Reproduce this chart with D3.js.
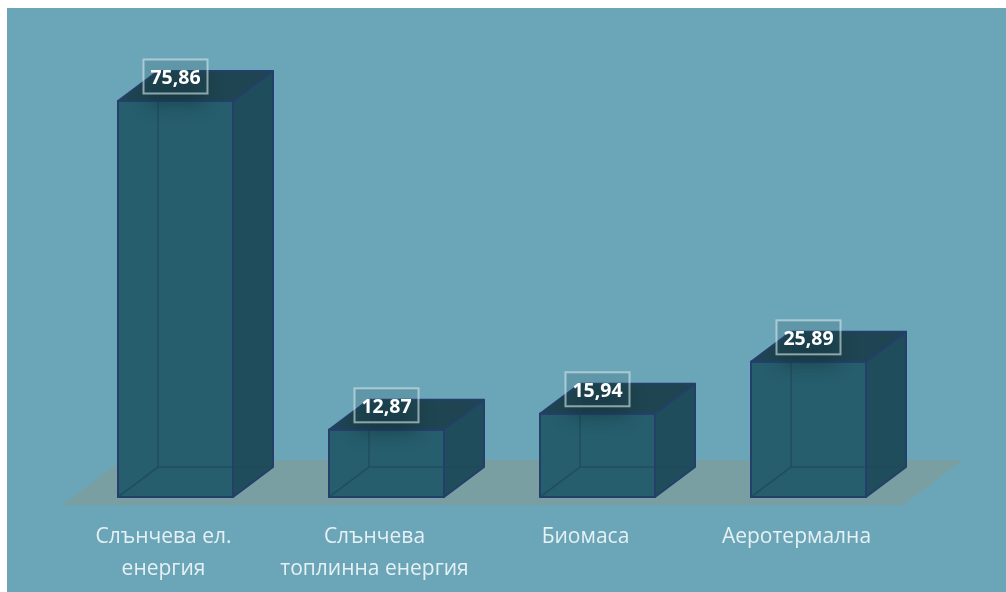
<!DOCTYPE html>
<html><head><meta charset="utf-8">
<script src="https://cdn.jsdelivr.net/npm/d3@7/dist/d3.min.js"></script>
<style>html,body{margin:0;padding:0;background:#fff}svg{display:block}</style>
</head><body><svg id="c" width="1006" height="592"></svg>
<script>
const categories = ["Слънчева ел. енергия","Слънчева топлинна енергия","Биомаса","Аеротермална"];
const categoryLines = [["Слънчева ел.","енергия"],["Слънчева","топлинна енергия"],["Биомаса"],["Аеротермална"]];
const values = [75.86,12.87,15.94,25.89];
const valueLabels = ["75,86","12,87","15,94","25,89"];

const W=1006,H=592,dx=40,dy=-30;
const svg=d3.select("#c");
const x=d3.scaleBand().domain(categories).range([118,866]).paddingInner(96/211);
const y=d3.scaleLinear().domain([0,75.86]).range([497,101]);
const bw=x.bandwidth();
const defs=svg.append("defs");
const blur=defs.append("filter").attr("id","glow").attr("x","-40%").attr("y","-60%").attr("width","180%").attr("height","220%").attr("color-interpolation-filters","sRGB");
blur.append("feGaussianBlur").attr("stdDeviation",9);
const soft=defs.append("filter").attr("id","soft").attr("filterUnits","userSpaceOnUse").attr("x",0).attr("y",0).attr("width",W).attr("height",H).attr("color-interpolation-filters","sRGB");
soft.append("feGaussianBlur").attr("stdDeviation",0.4);
svg.append("rect").attr("x",7).attr("y",8).attr("width",W-7).attr("height",H-8).attr("fill","#6ba5b8");
const root=svg.append("g").attr("filter","url(#soft)");
root.append("polygon").attr("points",[[62,505],[903,505],[963,460],[122,460]].join(" ")).attr("fill","#7a9fa2");
const line=d3.line();
const stroke="#24406a";
const g=root.selectAll("g.bar").data(categories).join("g").attr("class","bar");
g.each(function(c,i){
  const s=d3.select(this),l=x(c),r=l+bw,b=y(0),t=y(values[i]);
  const face=(p,f)=>s.append("path").attr("d",line(p)+"Z").attr("fill",f).attr("stroke",stroke).attr("stroke-width",2).attr("stroke-linejoin","round");
  face([[l,t],[r,t],[r+dx,t+dy],[l+dx,t+dy]],"#1e4551");
  face([[r,t],[r+dx,t+dy],[r+dx,b+dy],[r,b]],"#1f4d5b");
  face([[l,t],[r,t],[r,b],[l,b]],"#265e6d");
  // hidden edges of the box
  const hidden="#1f4a5c";
  s.append("path").attr("d",line([[l,b],[l+dx,b+dy],[r+dx,b+dy]])).attr("fill","none").attr("stroke",hidden).attr("stroke-opacity",.75).attr("stroke-width",1.6);
  s.append("path").attr("d",line([[l+dx,b+dy],[l+dx,t+dy]])).attr("fill","none").attr("stroke",hidden).attr("stroke-opacity",.75).attr("stroke-width",1.6);
  // edges of the front face stay on top of the hidden ones
  s.append("path").attr("d",line([[l,t],[r,t],[r,b],[l,b]])+"Z").attr("fill","none").attr("stroke",stroke).attr("stroke-width",2).attr("stroke-linejoin","round");
  // soft shadow of label, clipped to the top of the bar
  const bx=l+25,by=t-42;
  const clipId="clip"+i;
  defs.append("clipPath").attr("id",clipId).append("path").attr("d",line([[l,t+40],[l,t],[l+dx,t+dy],[r+dx,t+dy],[r,t],[r,t+40]])+"Z");
  s.append("g").attr("clip-path",`url(#${clipId})`).append("rect").attr("x",bx+4).attr("y",by+12).attr("width",58).attr("height",32).attr("fill","#123038").attr("opacity",.55).attr("filter","url(#glow)");
  s.append("rect").attr("x",bx+.5).attr("y",by+.5).attr("width",64).attr("height",34).attr("fill","#2d5a68").attr("fill-opacity",.18).attr("stroke","#d5e5e9").attr("stroke-opacity",.62).attr("stroke-width",2);
  s.append("text").attr("x",bx+32.5).attr("y",by+25).attr("text-anchor","middle").attr("font-family","'Open Sans',sans-serif").attr("font-weight",700).attr("font-size",19.5).attr("fill","#fff").text(valueLabels[i]);
  const tx=s.append("text").attr("text-anchor","middle").attr("font-family","'Open Sans',sans-serif").attr("font-size",21).attr("fill","#e6f1f4");
  categoryLines[i].forEach((t2,j)=>tx.append("tspan").attr("x",l+bw/2-12).attr("y",543+j*32).text(t2));
});
</script></body></html>
